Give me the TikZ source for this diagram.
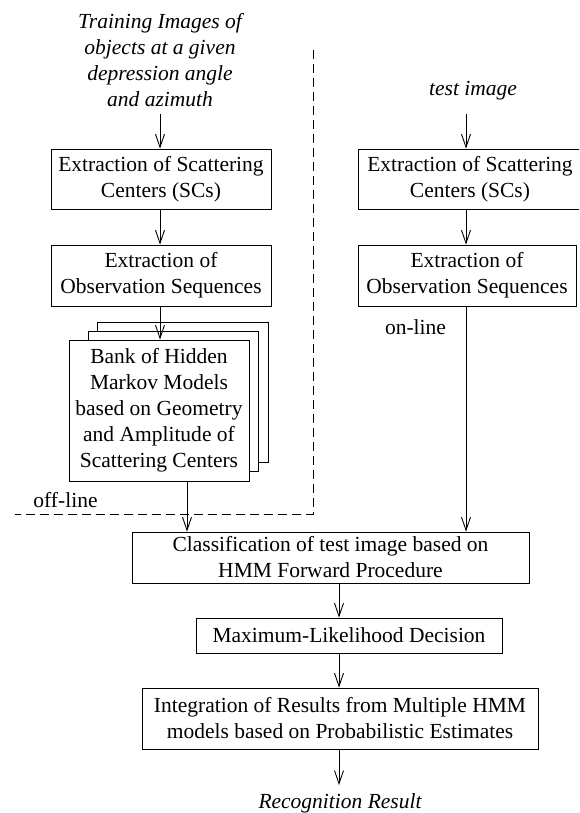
\documentclass[tikz,border=0pt]{standalone}
\usepackage{fontspec}
\setmainfont{Liberation Serif}
\usetikzlibrary{arrows.meta}
\begin{document}
\begin{tikzpicture}[x=1pt,y=-1pt,
  every node/.style={font=\fontsize{21.5}{26}\selectfont, inner sep=0pt, align=center},
  boxn/.style={draw, line width=0.9pt, fill=white},
  arr/.style={line width=0.9pt, -{Straight Barb[length=13pt,width=9pt,line width=0.9pt]}},
  sep/.style={line width=0.9pt, dash pattern=on 9pt off 5pt},
  lbl/.style={font=\fontsize{21.5}{26}\selectfont\itshape}]
\useasboundingbox (0,0) rectangle (579,813);
\clip (0,0) rectangle (579,813);
% input labels
\node[lbl] (train) at (160,60) {Training Images of\\objects at a given\\depression angle\\and azimuth};
\node[lbl] (test) at (473,91) {test image};
\coordinate (trainout) at (160,114);
\coordinate (testout) at (466,114);
% left column
\node[boxn, minimum width=220pt, minimum height=60pt] (l1) at (161,179) {Extraction of Scattering\\Centers (SCs)};
\node[boxn, minimum width=220pt, minimum height=61pt] (l2) at (161,275.5) {Extraction of\\Observation Sequences};
\node[boxn, minimum width=171pt, minimum height=140pt] (bk2) at (182.5,392) {};
\node[boxn, minimum width=170pt, minimum height=140pt] (bk1) at (173,401) {};
\node[boxn, minimum width=180pt, minimum height=141pt] (bank) at (159,410.5) {Bank of Hidden\\Markov Models\\based on Geometry\\and Amplitude of\\Scattering Centers};
% right column
\node[boxn, minimum width=224pt, minimum height=60pt] (r1) at (470,179) {Extraction of Scattering\\Centers (SCs)};
\node[boxn, minimum width=218pt, minimum height=61pt] (r2) at (467,275.5) {Extraction of\\Observation Sequences};
% lower chain
\node[boxn, minimum width=397pt, minimum height=51pt] (cls) at (330.5,557.5) {Classification of test image based on\\HMM Forward Procedure};
\node[boxn, minimum width=306pt, minimum height=35pt] (ml) at (349,635.5) {Maximum-Likelihood Decision};
\node[boxn, minimum width=396pt, minimum height=61pt] (integ) at (340,718.5) {Integration of Results from Multiple HMM\\models based on Probabilistic Estimates};
\node[lbl] (res) at (340,803) {Recognition Result};
\coordinate (resin) at (339,785);
% labels
\node (online) at (415.5,327) {on-line};
\node (offline) at (65.5,500) {off-line};
% separator
\coordinate (d1) at (313,50);
\coordinate (d2) at (313,514);
\coordinate (d3) at (15,514);
\draw[sep] (d1) -- (d2) -- (d3);
% arrows
\draw[arr] (trainout) -- (l1.north -| trainout);
\draw[arr] (l1.south -| trainout) -- (l2.north -| trainout);
\draw[arr] (l2.south -| trainout) -- (bank.north -| trainout);
\coordinate (bx) at (187,0);
\draw[arr] (bank.south -| bx) -- (cls.north -| bx);
\draw[arr] (testout) -- (r1.north -| testout);
\draw[arr] (r1.south -| testout) -- (r2.north -| testout);
\draw[arr] (r2.south -| testout) -- (cls.north -| testout);
\coordinate (cx) at (339,0);
\draw[arr] (cls.south -| cx) -- (ml.north -| cx);
\draw[arr] (ml.south -| cx) -- (integ.north -| cx);
\draw[arr] (integ.south -| cx) -- (resin);
\end{tikzpicture}
\end{document}
